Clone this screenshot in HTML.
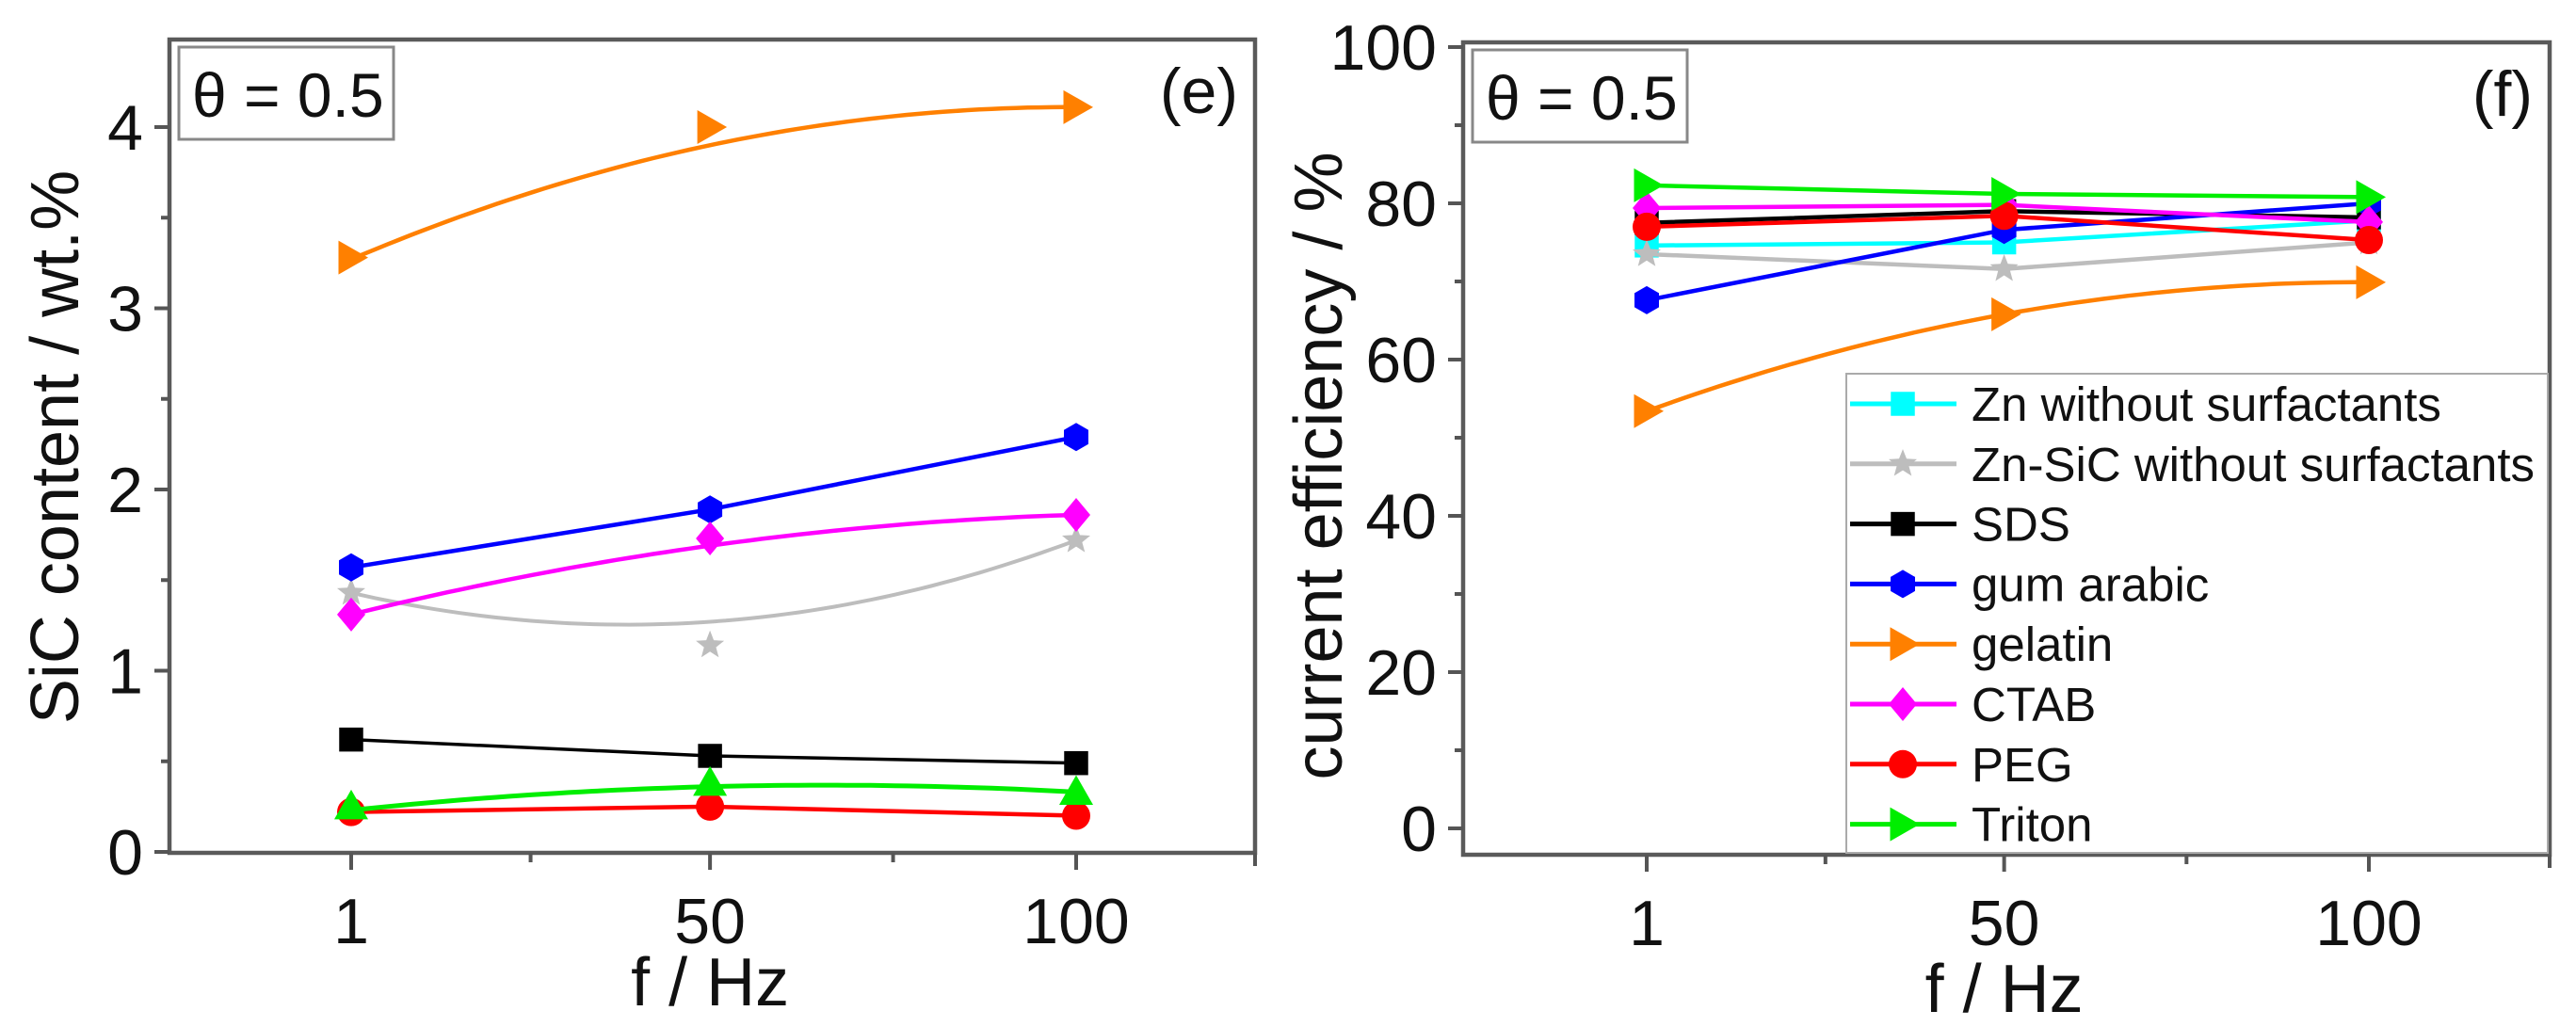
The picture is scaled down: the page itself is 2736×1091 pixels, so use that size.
<!DOCTYPE html>
<html><head><meta charset="utf-8">
<style>
html,body{margin:0;padding:0;background:#fff;}
svg{display:block;font-family:"Liberation Sans",Arial,sans-serif;}
</style></head>
<body>
<svg id="fig" width="2736" height="1091" viewBox="0 0 2736 1091" xmlns="http://www.w3.org/2000/svg"></svg>
<script>
// ---- data ----
const freqs = [1, 50, 100];
const seriesNames = ["Zn without surfactants","Zn-SiC without surfactants","SDS","gum arabic","gelatin","CTAB","PEG","Triton"];
// Left panel (e): SiC content / wt.%
const sicZnSiC  = [1.43, 1.14, 1.72];
const sicSDS    = [0.62, 0.53, 0.49];
const sicGum    = [1.57, 1.89, 2.29];
const sicGel    = [3.28, 4.00, 4.11];
const sicCTAB   = [1.31, 1.73, 1.86];
const sicPEG    = [0.22, 0.25, 0.20];
const sicTriton = [0.25, 0.38, 0.33];
// fitted curves shown in panel (e)
const fitZnSiC  = [1.43, 1.27, 1.72];
const fitGel    = [3.27, 3.90, 4.11];
const fitCTAB   = [1.31, 1.69, 1.86];
const fitTriton = [0.23, 0.36, 0.33];
// Right panel (f): current efficiency / %
const ceZn     = [74.6, 75.0, 77.8];
const ceZnSiC  = [73.5, 71.6, 75.0];
const ceSDS    = [77.5, 79.0, 78.2];
const ceGum    = [67.6, 76.6, 80.0];
const ceGel    = [53.4, 65.8, 69.9];
const ceCTAB   = [79.4, 79.8, 77.6];
const cePEG    = [77.0, 78.4, 75.3];
const ceTriton = [82.3, 81.2, 80.8];
const leftYTicks = [0,1,2,3,4];
const rightYTicks = [0,20,40,60,80,100];
const xTickLabels = ["1","50","100"];

const NS="http://www.w3.org/2000/svg";
const svg=document.getElementById('fig');
function mk(tag,attrs,parent){const e=document.createElementNS(NS,tag);for(const k in attrs)e.setAttribute(k,attrs[k]);(parent||svg).appendChild(e);return e;}

const L={x0:180,x1:1333,y0:42,y1:906,fx:(f)=>373+(f-1)*(1143-373)/99,fy:(v)=>905-v*192.5};
const R={x0:1554,x1:2708,y0:45,y1:908,fx:(f)=>1749+(f-1)*(2516-1749)/99,fy:(v)=>880-v*8.3};

function quadPath(P,vals){
  const xs=freqs; let d="";
  for(let i=0;i<=60;i++){
    const f=xs[0]+(xs[2]-xs[0])*i/60;
    let v=0;
    for(let j=0;j<3;j++){let t=vals[j];for(let k=0;k<3;k++)if(k!==j)t*=(f-xs[k])/(xs[j]-xs[k]);v+=t;}
    d+=(i?"L":"M")+P.fx(f).toFixed(1)+","+P.fy(v).toFixed(1);
  }
  return d;
}
function polyPath(P,vals){return vals.map((v,i)=>(i?"L":"M")+P.fx(freqs[i])+","+P.fy(v)).join("");}

function marker(g,type,x,y,c,s){
  s=s||15;
  if(type==="square")return mk('rect',{x:x-s*0.85,y:y-s*0.85,width:s*1.7,height:s*1.7,fill:c},g);
  if(type==="circle")return mk('circle',{cx:x,cy:y,r:s,fill:c},g);
  if(type==="diamond")return mk('polygon',{points:`${x},${y-s*1.2} ${x+s},${y} ${x},${y+s*1.2} ${x-s},${y}`,fill:c},g);
  if(type==="tri-up")return mk('polygon',{points:`${x},${y-s*1.2} ${x+s*1.2},${y+s*0.9} ${x-s*1.2},${y+s*0.9}`,fill:c},g);
  if(type==="tri-right")return mk('polygon',{points:`${x-s*0.9},${y-s*1.2} ${x+s*1.2},${y} ${x-s*0.9},${y+s*1.2}`,fill:c},g);
  if(type==="hex"){let p=[];for(let i=0;i<6;i++){const a=Math.PI/6+i*Math.PI/3;p.push((x+s*Math.cos(a)).toFixed(1)+","+(y+s*Math.sin(a)).toFixed(1));}return mk('polygon',{points:p.join(" "),fill:c},g);}
  if(type==="star"){let p=[];for(let i=0;i<10;i++){const a=-Math.PI/2+i*Math.PI/5;const r=i%2?s*0.45:s*1.05;p.push((x+r*Math.cos(a)).toFixed(1)+","+(y+r*Math.sin(a)).toFixed(1));}return mk('polygon',{points:p.join(" "),fill:c},g);}
}

function drawSeries(P,name,vals,fit,color,mtype,lw){
  const g=mk('g',{});
  
  
  mk('path',{d:fit?quadPath(P,fit):polyPath(P,vals),fill:'none',stroke:color,'stroke-width':lw||4.5},g);
  vals.forEach((v,i)=>{const m=marker(g,mtype,P.fx(freqs[i]),P.fy(v),color);
    
    });
}

function drawAxes(P,yTicks,yMinor,yTitle,panelLabel,tag){
  const g=mk('g',{});
  
  
  mk('rect',{x:P.x0,y:P.y0,width:P.x1-P.x0,height:P.y1-P.y0,fill:'none',stroke:'#5a5a5a','stroke-width':4.5},g);
  yTicks.forEach(v=>{const y=P.fy(v);
    mk('line',{x1:P.x0-16,x2:P.x0,y1:y,y2:y,stroke:'#555','stroke-width':4},g);
    const t=mk('text',{x:P.x0-28,y:y+24,'font-size':68,'text-anchor':'end',fill:'#111'},g);t.textContent=v;
    
    });
  yMinor.forEach(v=>{const y=P.fy(v);mk('line',{x1:P.x0-9,x2:P.x0,y1:y,y2:y,stroke:'#555','stroke-width':4},g);});
  freqs.forEach((f,i)=>{const x=P.fx(f);
    mk('line',{x1:x,x2:x,y1:P.y1,y2:P.y1+18,stroke:'#555','stroke-width':4},g);
    const t=mk('text',{x:x,y:P.y1+96,'font-size':68,'text-anchor':'middle',fill:'#111'},g);t.textContent=xTickLabels[i];
    
    });
  [(freqs[0]+freqs[1])/2,(freqs[1]+freqs[2])/2].forEach(f=>{const x=P.fx(f);mk('line',{x1:x,x2:x,y1:P.y1,y2:P.y1+10,stroke:'#555','stroke-width':4},g);});
  mk('line',{x1:P.x1,x2:P.x1,y1:P.y1,y2:P.y1+14,stroke:'#555','stroke-width':4},g);
  const xt=mk('text',{x:(P.fx(50)),y:tag==='left'?1068:1075,'font-size':72,'text-anchor':'middle',fill:'#111'},g);xt.textContent="f / Hz";
  
  
  const cx=tag==='left'?58:1400, cy=tag==='left'?475:495;
  const yt=mk('text',{x:cx,y:cy,'font-size':72,'text-anchor':'middle',fill:'#111',transform:`rotate(-90 ${cx} ${cy})`},g);
  yt.setAttribute('dy','25');yt.textContent=yTitle;
  
  
  const bx=P.x0+10,by=P.y0+8;
  mk('rect',{x:bx,y:by,width:228,height:98,fill:'#fff',stroke:'#888','stroke-width':3},g);
  const th=mk('text',{x:bx+14,y:by+74,'font-size':66,fill:'#111'},g);th.textContent="θ = 0.5";
  
  
  const pl=mk('text',{x:P.x1-18,y:P.y0+78,'font-size':68,'text-anchor':'end',fill:'#111'},g);pl.textContent=panelLabel;
  
  
}

drawAxes(L,leftYTicks,[0.5,1.5,2.5,3.5],"SiC content / wt.%","(e)","left");
drawSeries(L,"Zn-SiC without surfactants",sicZnSiC,fitZnSiC,"#bdbdbd","star",4);
drawSeries(L,"SDS",sicSDS,null,"#000","square",3.5);
drawSeries(L,"gum arabic",sicGum,null,"#0000ff","hex",4.5);
drawSeries(L,"gelatin",sicGel,fitGel,"#ff8000","tri-right",4.5);
drawSeries(L,"CTAB",sicCTAB,fitCTAB,"#ff00ff","diamond",4.5);
drawSeries(L,"PEG",sicPEG,null,"#ff0000","circle",4.5);
drawSeries(L,"Triton",sicTriton,fitTriton,"#00ee00","tri-up",5);

drawAxes(R,rightYTicks,[10,30,50,70,90],"current efficiency / %","(f)","right");
const rightSpecs=[
 ["Zn without surfactants",ceZn,"#00ffff","square"],
 ["Zn-SiC without surfactants",ceZnSiC,"#bdbdbd","star"],
 ["SDS",ceSDS,"#000","square"],
 ["gum arabic",ceGum,"#0000ff","hex"],
 ["gelatin",ceGel,"#ff8000","tri-right"],
 ["CTAB",ceCTAB,"#ff00ff","diamond"],
 ["PEG",cePEG,"#ff0000","circle"],
 ["Triton",ceTriton,"#00ee00","tri-right"]];
rightSpecs.forEach(s=>drawSeries(R,s[0],s[1],s[0]==="gelatin"?s[1]:null,s[2],s[3],4.5));

const lg=mk('g',{});


mk('rect',{x:1961,y:397,width:745,height:509,fill:'#fff',stroke:'#aaa','stroke-width':2},lg);
rightSpecs.forEach((s,i)=>{
  const y=429+i*63.8;
  const e=mk('g',{},lg);
  
  
  mk('line',{x1:1965,x2:2078,y1:y,y2:y,stroke:s[2],'stroke-width':5},e);
  marker(e,s[3],2021,y,s[2],15);
  const t=mk('text',{x:2094,y:y+18,'font-size':51,fill:'#111'},e);t.textContent=s[0];
});
</script>
</body></html>
